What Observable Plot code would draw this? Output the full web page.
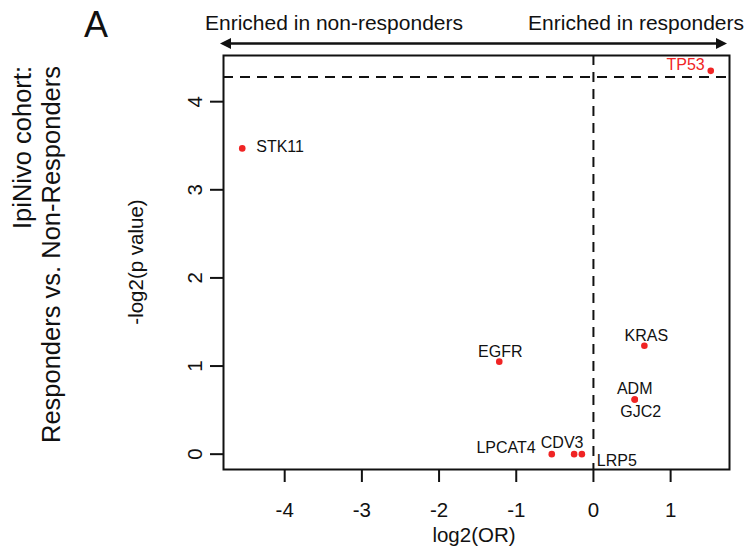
<!DOCTYPE html>
<html><head><meta charset="utf-8">
<script src="https://cdn.jsdelivr.net/npm/d3@7"></script>
<script src="https://cdn.jsdelivr.net/npm/@observablehq/plot@0.6"></script>
<style>
body{margin:0;background:#fff}
svg{font-family:"Liberation Sans",Arial,Helvetica,sans-serif}
</style>
</head><body><div id="chart"></div>
<script>
// ---- data ----
const genes    = ["TP53", "STK11", "EGFR", "KRAS", "ADM", "GJC2", "LPCAT4", "CDV3", "LRP5"];
const log2OR   = [1.52, -4.55, -1.22, 0.66, 0.535, 0.535, -0.54, -0.25, -0.15];
const negLog2P = [4.35, 3.47, 1.05, 1.23, 0.62, 0.62, 0, 0, 0];
const xTicks = [-4, -3, -2, -1, 0, 1];
const yTicks = [0, 1, 2, 3, 4];
const thresholdLine = 4.28;   // horizontal dashed significance line
const xLabel = "log2(OR)";
const yLabel = "-log2(p value)";
const sideTitle = ["IpiNivo cohort:", "Responders vs. Non-Responders"];
const arrowLabels = ["Enriched in non-responders", "Enriched in responders"];
const panelLetter = "A";

const data = genes.map((g, i) => ({gene: g, x: log2OR[i], y: negLog2P[i]}));

// R-like 4% padded domains
function pad(ext) { const r = ext[1] - ext[0]; return [ext[0] - 0.04 * r, ext[1] + 0.04 * r]; }
const xDomain = pad(d3.extent(log2OR));
const yDomain = pad(d3.extent(negLog2P));

const RED = "#f02424";
const placement = {
  TP53:   {dx: -6,  dy: -6,  anchor: "end",    fill: RED},
  STK11:  {dx: 14,  dy: -2,  anchor: "start"},
  EGFR:   {dx: 1,   dy: -10, anchor: "middle"},
  KRAS:   {dx: 2,   dy: -10, anchor: "middle"},
  ADM:    {dx: 0,   dy: -11, anchor: "middle"},
  GJC2:   {dx: 6,   dy: 12,  anchor: "middle"},
  LPCAT4: {dx: -16, dy: -6,  anchor: "end"},
  CDV3:   {dx: -12, dy: -11, anchor: "middle"},
  LRP5:   {dx: 15,  dy: 7,   anchor: "start"}
};

const labelMarks = data.map(d => {
  const p = placement[d.gene];
  return Plot.text([d], {x: "x", y: "y", text: "gene", dx: p.dx, dy: p.dy,
    textAnchor: p.anchor, fill: p.fill || "#111", fontSize: 16});
});

const W = 746, H = 550;
const plot = Plot.plot({
  width: W, height: H,
  marginLeft: 223, marginRight: 17, marginTop: 55, marginBottom: 81,
  style: {fontFamily: '"Liberation Sans",Arial,sans-serif', background: "#fff", color: "#111"},
  x: {domain: xDomain},
  y: {domain: yDomain},
  marks: [
    Plot.ruleX([0], {stroke: "#111", strokeWidth: 2, strokeDasharray: "10,7"}),
    Plot.ruleY([thresholdLine], {stroke: "#111", strokeWidth: 2, strokeDasharray: "10,7"}),
    Plot.frame({stroke: "#111", strokeWidth: 2}),
    Plot.axisX({ticks: xTicks, tickSize: 13, tickPadding: 20, tickFormat: d => String(d),
      fontSize: 20.5, strokeWidth: 2, label: null}),
    Plot.axisY({ticks: yTicks, tickSize: 13, tickPadding: 9, tickRotate: -90, tickFormat: d => String(d),
      fontSize: 20.5, strokeWidth: 2, label: null}),
    Plot.dot(data, {x: "x", y: "y", r: 3.3, fill: RED, stroke: "none"}),
    ...labelMarks
  ]
});
document.getElementById("chart").appendChild(plot);

// ---- annotations outside the frame ----
const svg = d3.select(plot);
const [fx0, fx1] = plot.scale("x").range;
const [fyBottom, fyTop] = plot.scale("y").range;
const frameMidY = (fyBottom + fyTop) / 2;
const frameMidX = (fx0 + fx1) / 2;
const g = svg.append("g").attr("fill", "#111").style("font-family", '"Liberation Sans",Arial,sans-serif');

g.append("text").attr("x", 96).attr("y", 37).attr("text-anchor", "middle")
  .attr("font-size", 36).text(panelLetter);

g.append("text").attr("transform", "translate(31,66) rotate(-90)").attr("text-anchor", "end")
  .attr("font-size", 25.5).text(sideTitle[0]);
g.append("text").attr("transform", "translate(60,66) rotate(-90)").attr("text-anchor", "end")
  .attr("font-size", 25.5).text(sideTitle[1]);

g.append("text").attr("transform", `translate(143,${frameMidY}) rotate(-90)`).attr("text-anchor", "middle")
  .attr("font-size", 20.5).text(yLabel);
g.append("text").attr("x", frameMidX - 2).attr("y", 542).attr("text-anchor", "middle")
  .attr("font-size", 20.5).text(xLabel);

g.append("text").attr("x", 205).attr("y", 30).attr("text-anchor", "start")
  .attr("font-size", 21).text(arrowLabels[0]);
g.append("text").attr("x", 744).attr("y", 30).attr("text-anchor", "end")
  .attr("font-size", 21).text(arrowLabels[1]);

// double-headed arrow spanning the frame
const ay = 43.5, tipL = fx0 - 3, tipR = fx1 - 2, hl = 11, hw = 5.5;
g.append("line").attr("x1", tipL + 4).attr("x2", tipR - 4).attr("y1", ay).attr("y2", ay)
  .attr("stroke", "#111").attr("stroke-width", 2.6);
g.append("path").attr("d", `M${tipL},${ay}L${tipL + hl},${ay - hw}L${tipL + hl},${ay + hw}Z`);
g.append("path").attr("d", `M${tipR},${ay}L${tipR - hl},${ay - hw}L${tipR - hl},${ay + hw}Z`);
</script>
</body></html>
